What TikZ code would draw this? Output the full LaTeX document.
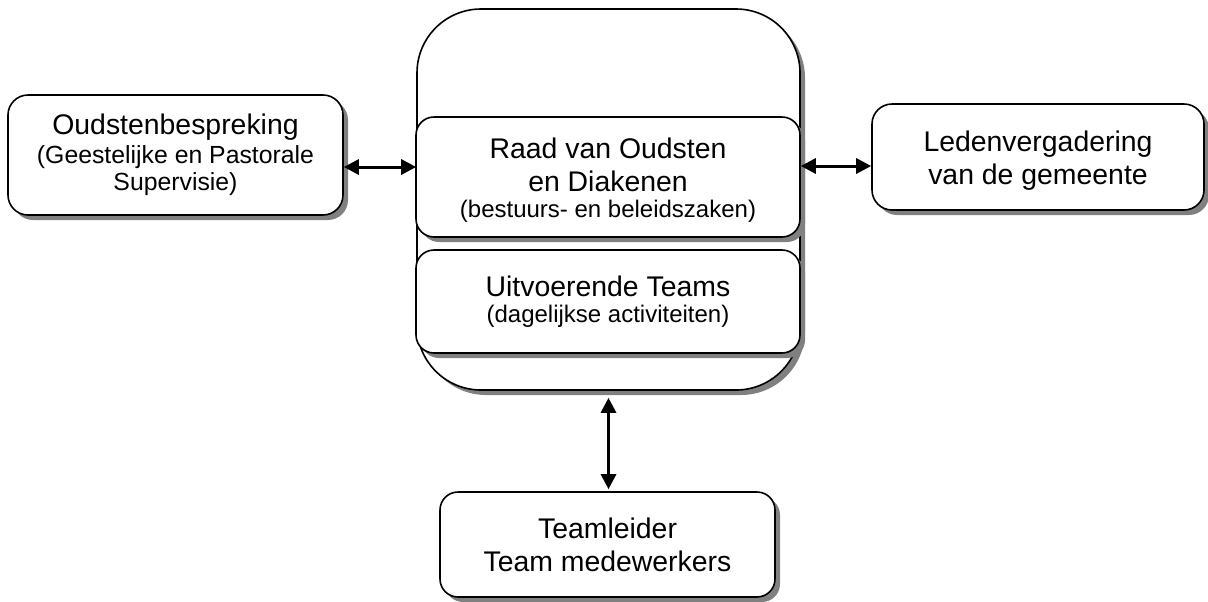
\documentclass[tikz,border=0pt]{standalone}
\usepackage{fontspec}
\setmainfont{Liberation Sans}
\usetikzlibrary{arrows.meta,shadows}

\begin{document}
\begin{tikzpicture}[x=0.5pt,y=-0.5pt,
  box/.style={draw, line width=0.8pt, fill=white, rounded corners=9pt, align=center, inner sep=0pt,
    drop shadow={shadow xshift=2.5pt, shadow yshift=-2.5pt, fill=black!50, opacity=1},
    font=\fontsize{14.2}{16.5}\selectfont},
  link/.style={{Triangle[length=7.5pt,width=7.5pt]}-{Triangle[length=7.5pt,width=7.5pt]}, line width=1.5pt}]
  \useasboundingbox (0,0) rectangle (1208,601);
  % left and right
  \node[box, minimum width=167.5pt, minimum height=60pt, rounded corners=10pt] (oudsten) at (175.5,155)
    {Oudstenbespreking\\[-2pt]
     {\fontsize{12.4}{14}\selectfont (Geestelijke en Pastorale}\\[-3pt]
     {\fontsize{12.4}{14}\selectfont Supervisie)}};
  \node[box, minimum width=166pt, minimum height=53pt, rounded corners=10pt] (leden) at (1038,157)
    {\rule{0pt}{13.5pt}Ledenvergadering\\van de gemeente};
  % middle column
  \node[box, minimum width=191.5pt, minimum height=190.5pt, rounded corners=32pt] (frame) at (608.5,199.5) {};
  \node[box, minimum width=192pt, minimum height=60pt] (raad) at (608,177)
    {\rule{0pt}{13.5pt}Raad van Oudsten\\en Diakenen\\[-3.5pt]
     {\fontsize{12}{14}\selectfont (bestuurs- en beleidszaken)}};
  \node[box, minimum width=192pt, minimum height=51.5pt] (uitv) at (608,301.5)
    {Uitvoerende Teams\\[-3.5pt]
     {\fontsize{12}{14}\selectfont (dagelijkse activiteiten)}};
  \node[box, minimum width=167.5pt, minimum height=52.5pt] (teams) at (607.5,544.5)
    {Teamleider\\Team medewerkers};
  % links
  \draw[link] (oudsten.east |- 0,167) -- (frame.west |- 0,167);
  \draw[link] (frame.east |- 0,166) -- (leden.west |- 0,166);
  \draw[link, shorten <=3.5pt, shorten >=1pt] (frame.south) -- (frame.south |- teams.north);
\end{tikzpicture}
\end{document}
